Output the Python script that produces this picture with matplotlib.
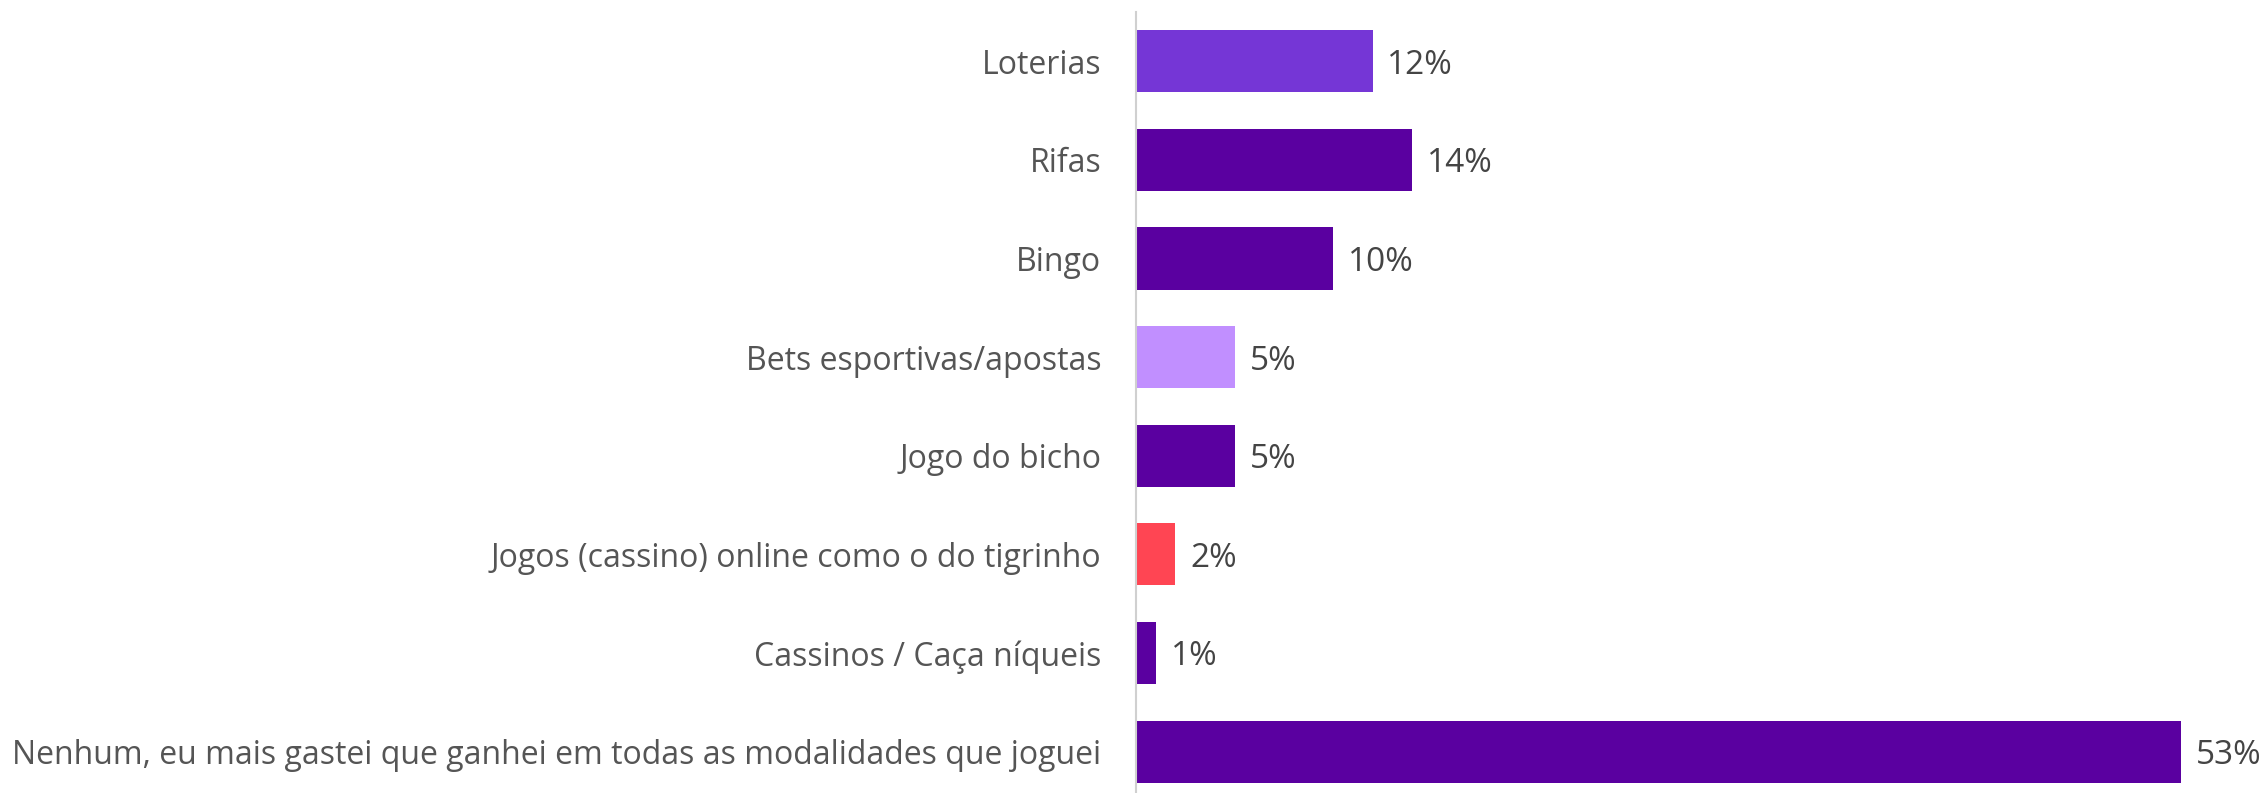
import matplotlib
matplotlib.use("Agg")
import matplotlib.pyplot as plt

categories = [
    "Loterias",
    "Rifas",
    "Bingo",
    "Bets esportivas/apostas",
    "Jogo do bicho",
    "Jogos (cassino) online como o do tigrinho",
    "Cassinos / Caça níqueis",
    "Nenhum, eu mais gastei que ganhei em todas as modalidades que joguei",
]
values = [12, 14, 10, 5, 5, 2, 1, 53]
bar_colors = ["#7536D6", "#5A00A0", "#5A00A0", "#C18FFF",
              "#5A00A0", "#FF4553", "#5A00A0", "#5A00A0"]

plt.rcParams['font.family'] = ['Open Sans', 'DejaVu Sans']

fig = plt.figure(figsize=(22.64, 7.93), dpi=100)
ax = fig.add_axes([1136 / 2264, 0, 1 - 1136 / 2264, (793 - 12) / 793])

y = list(range(len(categories)))
ax.barh(y, values, height=0.63, color=bar_colors)

# value labels sit a touch below the bar centre, as in the original
for yi, v in zip(y, values):
    ax.text(v + 0.75, yi + 0.04, f"{v}%", va="center", ha="left",
            fontsize=24, color="#444444")

ax.set_xlim(0, 57.2)
ax.set_ylim(7.42, -0.5)
ax.set_yticks(y)
ax.set_yticklabels(categories, fontsize=23, color="#555555")
ax.tick_params(axis="y", length=0, pad=25)
ax.set_xticks([])

for s in ["top", "right", "bottom"]:
    ax.spines[s].set_visible(False)
ax.spines["left"].set_color("#d0d0d0")
ax.spines["left"].set_linewidth(1.5)

fig.savefig("out.png", dpi=100)
